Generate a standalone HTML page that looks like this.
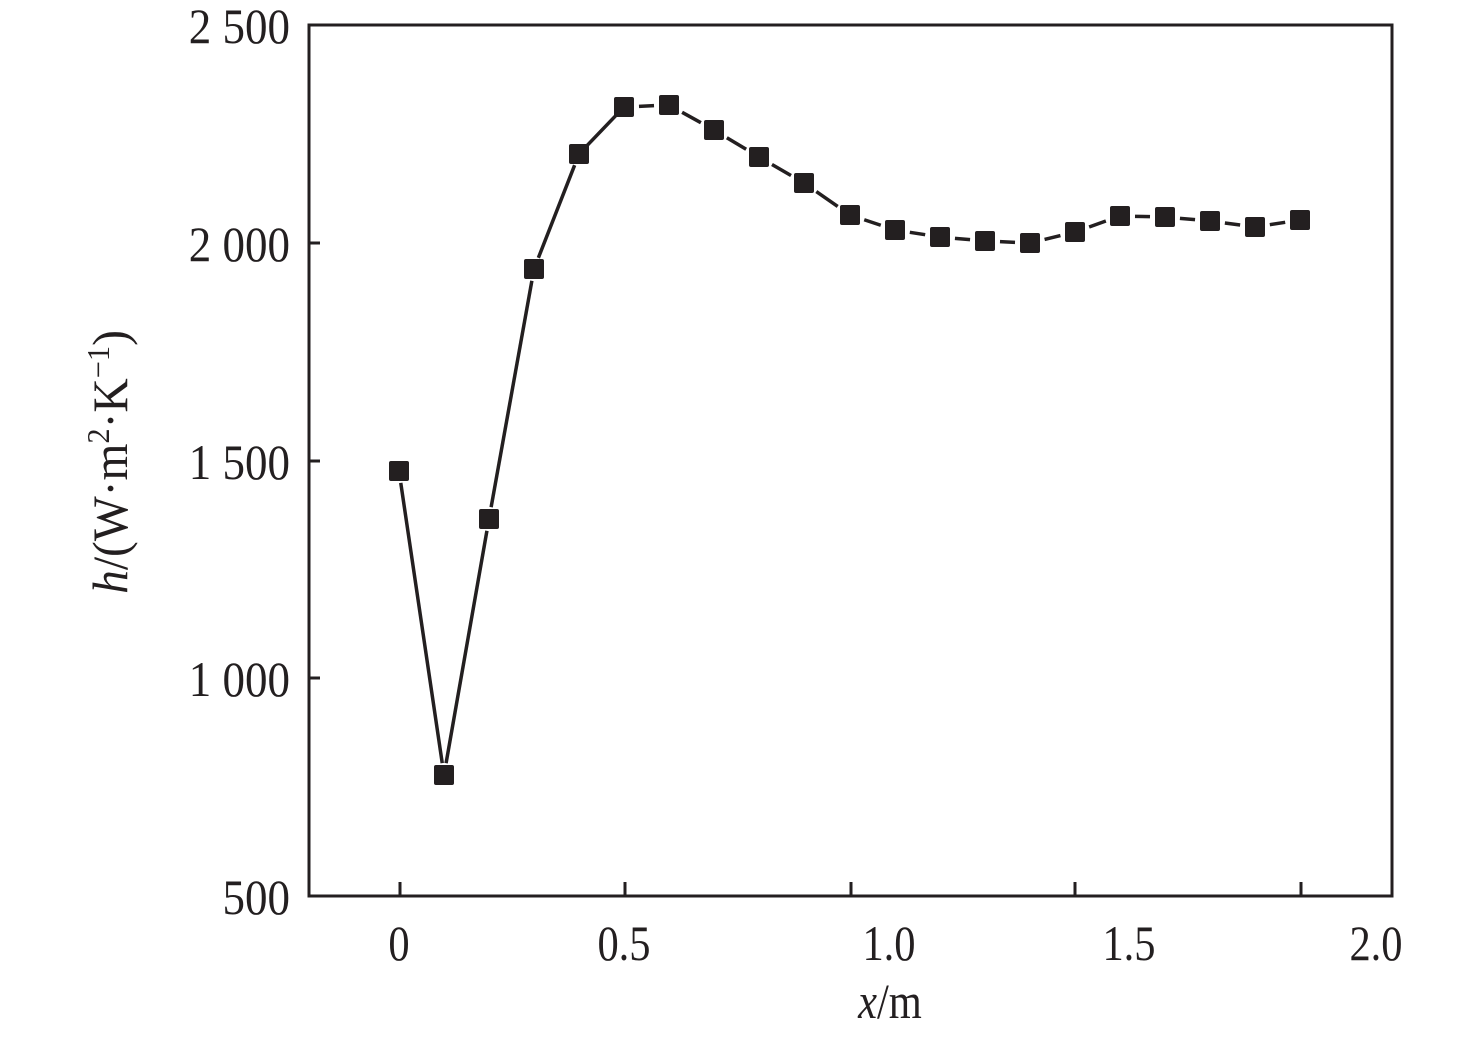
<!DOCTYPE html>
<html><head><style>body{margin:0;background:#fff}</style></head><body>
<svg width="1476" height="1034" xmlns="http://www.w3.org/2000/svg" font-family="Liberation Serif, serif" fill="#231f20">
<rect x="309" y="25" width="1083" height="871" fill="none" stroke="#231f20" stroke-width="3"/>
<g stroke="#231f20" stroke-width="3">
<line x1="309" y1="243" x2="320" y2="243"/><line x1="309" y1="461" x2="320" y2="461"/><line x1="309" y1="678" x2="320" y2="678"/>
<line x1="400" y1="896" x2="400" y2="882"/><line x1="625" y1="896" x2="625" y2="882"/><line x1="851" y1="896" x2="851" y2="882"/><line x1="1075" y1="896" x2="1075" y2="882"/><line x1="1301" y1="896" x2="1301" y2="882"/>
</g>
<g font-size="50" text-anchor="end">
<text transform="translate(290,43) scale(0.9,1)">2 500</text>
<text transform="translate(290,261) scale(0.9,1)">2 000</text>
<text transform="translate(290,479) scale(0.9,1)">1 500</text>
<text transform="translate(290,696) scale(0.9,1)">1 000</text>
<text transform="translate(290,914) scale(0.9,1)">500</text>
</g>
<g font-size="50" text-anchor="middle">
<text transform="translate(399,960) scale(0.85,1)">0</text>
<text transform="translate(624,960) scale(0.85,1)">0.5</text>
<text transform="translate(889,960) scale(0.85,1)">1.0</text>
<text transform="translate(1129,960) scale(0.85,1)">1.5</text>
<text transform="translate(1376,960) scale(0.85,1)">2.0</text>
<text transform="translate(890,1018) scale(0.85,1)"><tspan font-style="italic">x</tspan>/m</text>
</g>
<text transform="translate(127,462) rotate(-90) scale(0.95,1)" font-size="50" text-anchor="middle"><tspan font-style="italic">h</tspan>/(W·m<tspan font-size="32" dy="-18">2</tspan><tspan dy="18">·K</tspan><tspan font-size="32" dy="-18">−1</tspan><tspan dy="18">)</tspan></text>
<g id="lines" stroke="#231f20" stroke-width="3.5"></g>
<g id="marks"></g>
</svg>
<script>
var p=[[399,471],[444,775],[489,519],[534,269],[579,154],[624,107],[669,105],[714,130],[759,157],[804,183],[850,215],[895,230],[940,237],[985,241],[1030,243],[1075,232],[1120,216],[1165,217],[1210,221],[1255,227],[1300,220]];
var L=document.getElementById('lines'),M=document.getElementById('marks'),ns='http://www.w3.org/2000/svg';
for(var i=0;i<p.length-1;i++){var a=p[i],b=p[i+1],dx=b[0]-a[0],dy=b[1]-a[1],d=Math.hypot(dx,dy),g=i<5?12:15;
var l=document.createElementNS(ns,'line');l.setAttribute('x1',a[0]+dx*g/d);l.setAttribute('y1',a[1]+dy*g/d);l.setAttribute('x2',b[0]-dx*g/d);l.setAttribute('y2',b[1]-dy*g/d);L.appendChild(l);}
p.forEach(function(q){var r=document.createElementNS(ns,'rect');r.setAttribute('x',q[0]-10);r.setAttribute('y',q[1]-10);r.setAttribute('width',20);r.setAttribute('height',20);r.setAttribute('rx',2);M.appendChild(r);});
</script>
</body></html>
